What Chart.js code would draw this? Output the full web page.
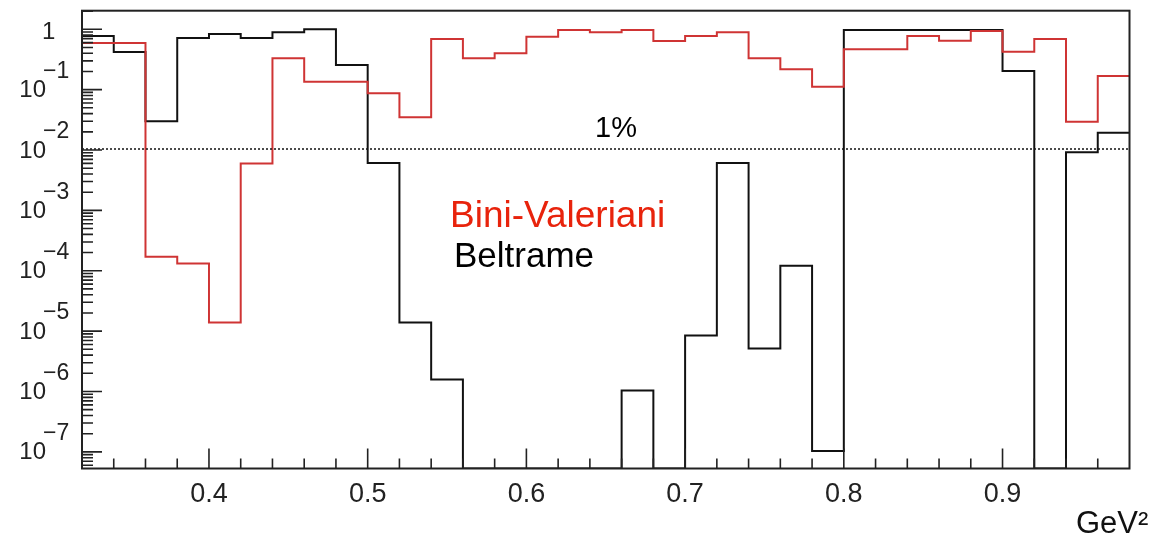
<!DOCTYPE html>
<html><head><meta charset="utf-8">
<script src="https://cdn.jsdelivr.net/npm/chart.js@4.4.0/dist/chart.umd.min.js"></script>
<style>html,body{margin:0;padding:0;background:#fff;overflow:hidden}canvas{display:block}</style>
</head><body>
<canvas id="c" width="1153" height="542"></canvas>
<script>
// Bin edges (GeV^2), 33 bins of width 0.02
const binEdges = [0.32,0.34,0.36,0.38,0.40,0.42,0.44,0.46,0.48,0.50,0.52,0.54,0.56,0.58,0.60,0.62,0.64,0.66,0.68,0.70,0.72,0.74,0.76,0.78,0.80,0.82,0.84,0.86,0.88,0.90,0.92,0.94,0.96,0.98];
// Beltrame (black) bin contents; 0 = empty bin
const beltrame = [0.774,0.42,0.0299,0.718,0.836,0.718,0.892,1.0,0.256,6.08e-3,1.39e-5,1.58e-6,0,0,0,0,0,1.04e-6,0,8.5e-6,6.08e-3,5.17e-6,1.21e-4,1.03e-7,0.97,0.97,0.97,0.97,0.97,0.204,0,9.2e-3,0.0193];
// Bini-Valeriani (red) bin contents
const biniValeriani = [0.593,0.593,1.70e-4,1.32e-4,1.39e-5,6.0e-3,0.331,0.135,0.135,0.0869,0.0348,0.69,0.331,0.40,0.754,0.97,0.892,0.97,0.64,0.774,0.892,0.331,0.217,0.112,0.466,0.466,0.774,0.647,0.937,0.425,0.69,0.0294,0.168];
// Axis ticks / labels
const xMajorTicks = [0.4,0.5,0.6,0.7,0.8,0.9];
const xTickLabels = ['0.4','0.5','0.6','0.7','0.8','0.9'];
const xMinorTicks = [0.34,0.36,0.38,0.42,0.44,0.46,0.48,0.52,0.54,0.56,0.58,0.62,0.64,0.66,0.68,0.72,0.74,0.76,0.78,0.82,0.84,0.86,0.88,0.92,0.94,0.96];
const yDecades = [0,-1,-2,-3,-4,-5,-6,-7];
const yDecadeBase = ['1','10','10','10','10','10','10','10'];
const yDecadeExp = ['','−1','−2','−3','−4','−5','−6','−7'];
const X_MIN = 0.32, X_MAX = 0.98, Y_MIN = 5.3e-8, Y_MAX = 2.03;
const refLevel = 0.01, refLabel = '1%';
const seriesNames = ['Bini-Valeriani','Beltrame'];
const xUnit = 'GeV²';

function steps(vals){
  const pts = vals.map((v,i)=>({x:binEdges[i], y: v>0 ? v : Y_MIN}));
  pts.push({x:binEdges[binEdges.length-1], y: vals[vals.length-1]>0 ? vals[vals.length-1] : Y_MIN});
  return pts;
}

const decor = {
  id:'decor',
  afterDatasetsDraw(chart){
    const ctx = chart.ctx, a = chart.chartArea;
    const xs = chart.scales.x, ys = chart.scales.y;
    ctx.save();
    // dotted 1% line
    ctx.strokeStyle = '#111'; ctx.lineWidth = 1.5; ctx.setLineDash([2,2]);
    const yr = ys.getPixelForValue(refLevel) - 1;
    ctx.beginPath(); ctx.moveTo(a.left, yr); ctx.lineTo(a.right, yr); ctx.stroke();
    ctx.setLineDash([]);
    // frame
    ctx.strokeStyle = '#222'; ctx.lineWidth = 2;
    ctx.strokeRect(a.left, a.top, a.right-a.left, a.bottom-a.top);
    // x ticks (inside)
    ctx.lineWidth = 1.6; ctx.strokeStyle = '#222';
    ctx.beginPath();
    xMajorTicks.forEach(v=>{const p=xs.getPixelForValue(v); ctx.moveTo(p,a.bottom); ctx.lineTo(p,a.bottom-20);});
    xMinorTicks.forEach(v=>{const p=xs.getPixelForValue(v); ctx.moveTo(p,a.bottom); ctx.lineTo(p,a.bottom-10);});
    // y ticks (inside)
    for (let d=1; d>=-8; d--) {
      for (let m=1; m<=9; m++) {
        const v = m*Math.pow(10,d);
        if (v < Y_MIN || v > Y_MAX) continue;
        const p = ys.getPixelForValue(v);
        const len = m===1 ? 20 : 11;
        ctx.moveTo(a.left,p); ctx.lineTo(a.left+len,p);
      }
    }
    ctx.stroke();
    // x labels
    ctx.fillStyle = '#222';
    ctx.font = '27px "Liberation Sans", Arial, sans-serif';
    ctx.textAlign = 'center'; ctx.textBaseline = 'middle';
    xMajorTicks.forEach((v,i)=>{ctx.fillText(xTickLabels[i], xs.getPixelForValue(v), 495);});
    // y labels
    yDecades.forEach((d,i)=>{
      const p = ys.getPixelForValue(Math.pow(10,d));
      ctx.font = '24px "Liberation Sans", Arial, sans-serif';
      if (yDecadeExp[i]==='') {
        ctx.textAlign='left'; ctx.fillText(yDecadeBase[i], 42, p+3);
      } else {
        ctx.textAlign='right'; ctx.fillText(yDecadeBase[i], 46, p+1);
        ctx.font = '23px "Liberation Sans", Arial, sans-serif';
        ctx.textAlign='left'; ctx.fillText(yDecadeExp[i], 43, p-18);
      }
    });
    // annotations
    ctx.textBaseline = 'alphabetic'; ctx.textAlign='left';
    ctx.font = '29px "Liberation Sans", Arial, sans-serif';
    ctx.fillStyle = '#000';
    ctx.fillText(refLabel, 595, yr-12);
    ctx.font = '37px "Liberation Sans", Arial, sans-serif';
    ctx.fillStyle = '#e8230c';
    ctx.fillText(seriesNames[0], 450, 227);
    ctx.font = '35px "Liberation Sans", Arial, sans-serif';
    ctx.fillStyle = '#000';
    ctx.fillText(seriesNames[1], 454, 267);
    ctx.font = '31px "Liberation Sans", Arial, sans-serif';
    ctx.fillStyle = '#111';
    ctx.fillText(xUnit, 1076, 533);
    ctx.restore();
  }
};

new Chart(document.getElementById('c'), {
  type:'line',
  data:{datasets:[
    {label:seriesNames[0], data:steps(biniValeriani), borderColor:'#cf3434', borderWidth:2, stepped:true, pointRadius:0, fill:false, order:0},
    {label:seriesNames[1], data:steps(beltrame), borderColor:'#111', borderWidth:2, stepped:true, pointRadius:0, fill:false, order:1}
  ]},
  options:{
    responsive:false, animation:false, devicePixelRatio:1,
    layout:{padding:{left:82, top:10.7, right:23.5, bottom:73.5}},
    plugins:{legend:{display:false}, tooltip:{enabled:false}},
    scales:{
      x:{type:'linear', min:X_MIN, max:X_MAX, display:false},
      y:{type:'logarithmic', min:Y_MIN, max:Y_MAX, display:false}
    }
  },
  plugins:[decor]
});
</script>
</body></html>
